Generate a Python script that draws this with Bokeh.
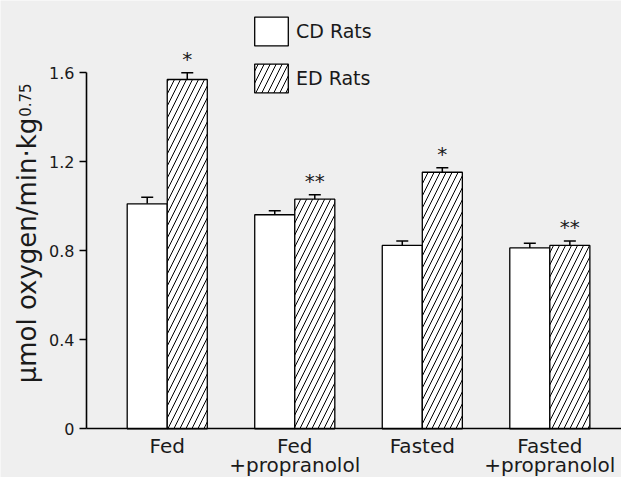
from math import pi
from bokeh.plotting import figure
from bokeh.models import (ColumnDataSource, FixedTicker, NumeralTickFormatter, Whisker,
                          TeeHead, Legend, LegendItem, Label, Range1d, LinearAxis)
from bokeh.core.properties import value
from bokeh.embed import file_html
from bokeh.resources import INLINE

# ---- data ----
groups = ["Fed", "Fed", "Fasted", "Fasted"]
group_sub = ["", "+propranolol", "", "+propranolol"]
series = ["CD Rats", "ED Rats"]
cd_mean = [1.011, 0.962, 0.824, 0.813]
cd_err = [0.030, 0.018, 0.020, 0.021]
ed_mean = [1.570, 1.032, 1.153, 0.824]
ed_err = [0.030, 0.020, 0.020, 0.020]
sig_marks = ["*", "**", "*", "**"]
y_ticks = [0, 0.4, 0.8, 1.2, 1.6]
y_label = "\u03bcmol oxygen/min\u00b7kg"
y_label_sup = "0.75"

FONT = "DejaVu Sans"
BG = "#efefef"
TXT = "#1a1a1a"
bar_w = 0.314
x_lo, x_hi = -0.633, 3.562          # extent of the drawn x axis
xs = list(range(len(groups)))
cd_x = [x - bar_w / 2 for x in xs]
ed_x = [x + bar_w / 2 for x in xs]

cd_src = ColumnDataSource(dict(x=cd_x, top=cd_mean, upper=[m + e for m, e in zip(cd_mean, cd_err)]))
ed_src = ColumnDataSource(dict(x=ed_x, top=ed_mean, upper=[m + e for m, e in zip(ed_mean, ed_err)],
                               mark=sig_marks))

p = figure(width=621, height=477, output_backend="svg", toolbar_location=None,
           x_range=Range1d(-1.3075, x_hi), y_range=Range1d(-0.219, 1.925),
           min_border_left=0, min_border_right=0, min_border_top=0, min_border_bottom=0)
p.background_fill_color = BG
p.border_fill_color = BG
p.outline_line_color = None
p.grid.visible = False

cd_r = p.vbar(x="x", top="top", width=bar_w, bottom=0, source=cd_src,
              fill_color="white", line_color="black", line_width=1.3)
ed_r = p.vbar(x="x", top="top", width=bar_w, bottom=0, source=ed_src,
              fill_color="white", line_color="black", line_width=1.3,
              hatch_pattern="/", hatch_color="black", hatch_scale=12, hatch_weight=1)

for src in (cd_src, ed_src):
    w = Whisker(source=src, base="x", upper="upper", lower="top", dimension="height",
                line_color="black", line_width=1.5,
                upper_head=TeeHead(size=12, line_width=1.5, line_color="black"),
                lower_head=None)
    p.add_layout(w)

p.text(x="x", y="upper", text="mark", source=ed_src, text_align="center",
       text_baseline="alphabetic", y_offset=-14, text_font=value(FONT),
       text_font_size="20px", text_color=TXT)

legend = Legend(items=[LegendItem(label=series[0], renderers=[cd_r]),
                       LegendItem(label=series[1], renderers=[ed_r])],
                location=(250, 381), glyph_width=42, glyph_height=36, spacing=11,
                padding=0, margin=0, label_standoff=4, border_line_alpha=0,
                background_fill_alpha=0, label_text_font=FONT, label_text_font_size="19px",
                label_text_color=TXT)
p.add_layout(legend)

# x axis, drawn at y = 0 (first line of the category labels)
xa = p.xaxis[0]
xa.fixed_location = 0
xa.bounds = (x_lo, x_hi)
xa.ticker = FixedTicker(ticks=xs)
xa.major_label_overrides = {i: g for i, g in enumerate(groups)}
xa.major_tick_in = 0
xa.major_tick_out = 0
xa.minor_tick_line_color = None
xa.axis_line_width = 1.6
xa.axis_line_color = "black"
xa.major_label_text_font = FONT
xa.major_label_text_font_size = "20px"
xa.major_label_text_color = TXT
xa.major_label_standoff = 5

# second line of the category labels
xa2 = LinearAxis(fixed_location=0, ticker=FixedTicker(ticks=xs),
                 major_label_overrides={i: g for i, g in enumerate(group_sub)},
                 axis_line_color=None, major_tick_in=0, major_tick_out=0,
                 minor_tick_line_color=None, major_label_text_font=FONT,
                 major_label_text_font_size="20px", major_label_text_color=TXT,
                 major_label_standoff=24)
p.add_layout(xa2, "below")

# y axis, drawn at the left end of the x axis
ya = p.yaxis[0]
ya.fixed_location = x_lo
ya.bounds = (0, 1.6)
ya.ticker = FixedTicker(ticks=y_ticks)
ya.formatter = NumeralTickFormatter(format="0.[0]")
ya.minor_tick_line_color = None
ya.major_tick_in = 0
ya.major_tick_out = 7
ya.major_tick_line_width = 1.5
ya.major_tick_line_color = "black"
ya.axis_line_width = 1.6
ya.axis_line_color = "black"
ya.major_label_text_font = FONT
ya.major_label_text_font_size = "16px"
ya.major_label_text_color = TXT
ya.major_label_standoff = 5
ya.axis_label = y_label
ya.axis_label_text_font = FONT
ya.axis_label_text_font_style = "normal"
ya.axis_label_text_font_size = "26px"
ya.axis_label_text_color = TXT
ya.axis_label_standoff = 4

sup = Label(x=x_lo, y=1.6, text=y_label_sup, angle=pi / 2, x_offset=-56, y_offset=-44,
            text_font=FONT, text_font_size="15px", text_baseline="bottom", text_color=TXT)
p.add_layout(sup)

open("out.html", "w").write(file_html(p, INLINE))
